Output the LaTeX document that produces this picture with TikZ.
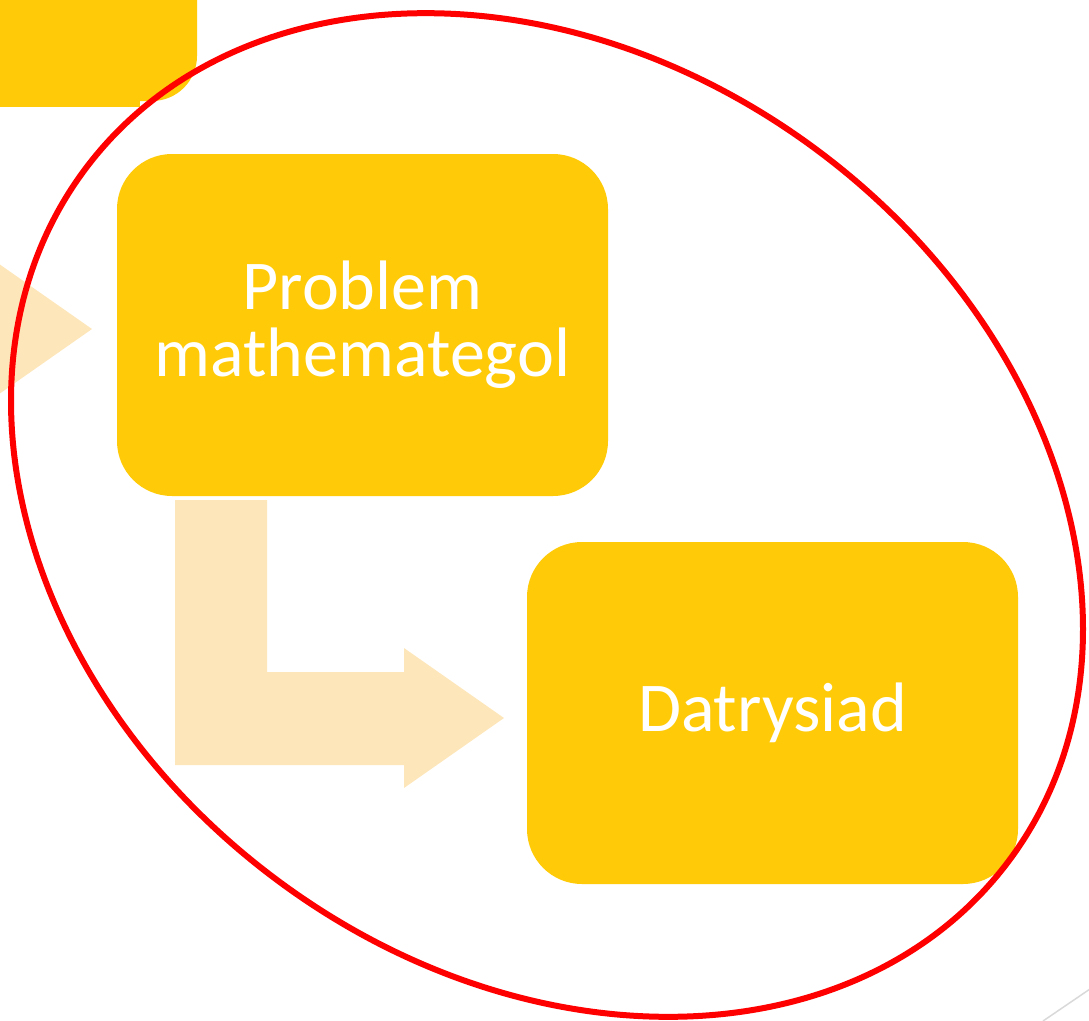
\documentclass[tikz,border=0pt]{standalone}
\usepackage{fontspec}
\setmainfont{Carlito}
\usepackage{xcolor}
\definecolor{boxyellow}{HTML}{FFCA08}
\definecolor{arrowpeach}{HTML}{FEE6BB}
\definecolor{markred}{HTML}{FF0000}
\definecolor{edgegray}{HTML}{D9D9D9}

\begin{document}
\begin{tikzpicture}[x=1pt,y=-1pt,
    stagebox/.style={rectangle,rounded corners=55pt,fill=boxyellow,text=white,
        minimum width=491pt,minimum height=342pt,inner sep=0pt,align=center,
        font=\fontsize{70}{67}\selectfont}]
    \useasboundingbox (0,0) rectangle (1089,1020);
    % cut-off pieces of the previous step
    \fill[boxyellow] (0,0) rectangle (140,107);
    \fill[boxyellow,rounded corners=45pt] (0,-80) -- (197,-80) -- (197,101) -- (-40,101) -- cycle;
    \fill[arrowpeach] (-8,259) -- (92,329) -- (-8,399) -- cycle;
    % steps
    \node[stagebox] (problem) at (362.5,325) {Problem\\mathemategol};
    \node[stagebox] (datrysiad) at (772.5,713) {Datrysiad};
    % bent arrow between them
    \fill[arrowpeach] (175,500) -- (267,500) -- (267,672) -- (404,672) -- (404,648)
        -- (504,718) -- (404,788) -- (404,765) -- (175,765) -- cycle;
    % marking
    \draw[markred,line width=6pt,rotate around={-36.9:(547,515)}] (547,515) ellipse (577pt and 454pt);
    \draw[edgegray,line width=1.5pt] (1043,1021) -- (1090,989);
\end{tikzpicture}
\end{document}
